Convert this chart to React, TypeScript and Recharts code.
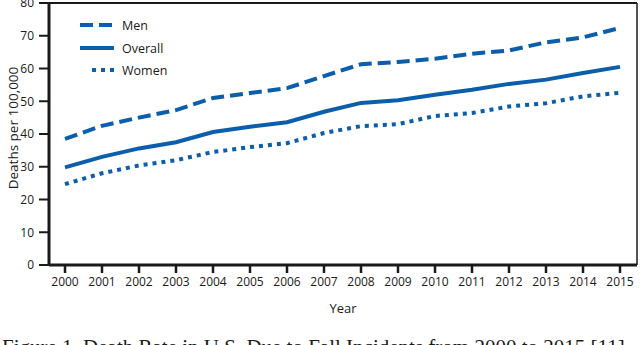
import React from 'react';
import { LineChart, Line, XAxis, YAxis } from 'recharts';

// Anos do eixo X
const years = [
  '2000', '2001', '2002', '2003', '2004', '2005', '2006', '2007',
  '2008', '2009', '2010', '2011', '2012', '2013', '2014', '2015',
];

// Taxas de morte por 100.000
const men = [38.5, 42.5, 45, 47.3, 51, 52.5, 54, 57.7, 61.3, 62, 63, 64.5, 65.5, 68, 69.5, 72.4];
const overall = [29.8, 33, 35.6, 37.5, 40.6, 42.2, 43.6, 46.8, 49.5, 50.3, 52, 53.5, 55.3, 56.6, 58.6, 60.5];
const women = [24.7, 28, 30.4, 32, 34.5, 36, 37.2, 40.3, 42.4, 43, 45.5, 46.4, 48.4, 49.4, 51.5, 52.6];

const yTicks = [0, 10, 20, 30, 40, 50, 60, 70, 80];

const BLUE = '#0b5eab';
const INK = '#1a1a1a';
const FONT = '"Open Sans", sans-serif';

// Tabela que o Recharts precisa
const data = years.map((year, i) => ({
  year,
  men: men[i],
  overall: overall[i],
  women: women[i],
}));

// Legenda desenhada à mão, no canto superior esquerdo
const LegendBox = () => {
  const items = [
    { label: 'Men', dash: '13 6', x1: 0, y: 12 },
    { label: 'Overall', dash: undefined, x1: 0, y: 35 },
    { label: 'Women', dash: '4 5', x1: 12, y: 57 },
  ];
  return (
    <svg
      width={110}
      height={70}
      style={{ position: 'absolute', left: 80, top: 13, display: 'block' }}
    >
      {items.map((it) => (
        <g key={it.label}>
          <line
            x1={it.x1}
            x2={34}
            y1={it.y}
            y2={it.y}
            stroke={BLUE}
            strokeWidth={4}
            strokeDasharray={it.dash}
          />
          <text x={42} y={it.y + 4.5} fontSize={12.5} fill={INK} fontFamily={FONT}>
            {it.label}
          </text>
        </g>
      ))}
    </svg>
  );
};

// Rótulo vertical do eixo Y
const YLabel = ({ viewBox }: any) => {
  const cx = 12.5;
  const cy = viewBox.y + viewBox.height / 2 - 6;
  return (
    <text
      x={cx}
      y={cy}
      transform={`rotate(-90 ${cx} ${cy})`}
      textAnchor="middle"
      dominantBaseline="central"
      fontSize={13.5}
      fill={INK}
      fontFamily={FONT}
    >
      Deaths per 100,000
    </text>
  );
};

const tickStyle = { fontSize: 12, fill: INK, fontFamily: FONT };

const App: React.FC = () => {
  return (
    <div
      style={{
        position: 'fixed',
        left: 0,
        top: 0,
        width: 640,
        height: 345,
        overflow: 'hidden',
        background: '#fff',
      }}
    >
      <LineChart
        width={640}
        height={320}
        data={data}
        margin={{ top: 2, right: 2, left: 0, bottom: 15 }}
      >
        <XAxis
          dataKey="year"
          height={40}
          padding={{ left: 16, right: 17 }}
          axisLine={{ stroke: INK, strokeWidth: 3 }}
          tickLine={{ stroke: INK, strokeWidth: 2.5 }}
          tickSize={8}
          tickMargin={4}
          tick={tickStyle}
          interval={0}
          label={{
            value: 'Year',
            position: 'insideBottom',
            offset: -8,
            style: { fontSize: 13, fill: INK, fontFamily: FONT },
          }}
        />
        {/* borda superior */}
        <XAxis
          xAxisId="top"
          dataKey="year"
          orientation="top"
          height={1}
          axisLine={{ stroke: INK, strokeWidth: 2 }}
          tick={false}
          tickLine={false}
        />
        <YAxis
          width={49}
          domain={[0, 80]}
          ticks={yTicks}
          interval={0}
          axisLine={{ stroke: INK, strokeWidth: 3 }}
          tickLine={{ stroke: INK, strokeWidth: 2 }}
          tickSize={10}
          tickMargin={5}
          tick={tickStyle}
          label={<YLabel />}
        />
        {/* borda direita */}
        <YAxis
          yAxisId="right"
          orientation="right"
          width={1}
          domain={[0, 80]}
          axisLine={{ stroke: INK, strokeWidth: 1.5 }}
          tick={false}
          tickLine={false}
        />
        <Line
          dataKey="men"
          stroke={BLUE}
          strokeWidth={4}
          strokeDasharray="13 6"
          dot={false}
          isAnimationActive={false}
        />
        <Line
          dataKey="overall"
          stroke={BLUE}
          strokeWidth={4}
          dot={false}
          isAnimationActive={false}
        />
        <Line
          dataKey="women"
          stroke={BLUE}
          strokeWidth={4}
          strokeDasharray="4 5"
          dot={false}
          isAnimationActive={false}
        />
      </LineChart>
      <LegendBox />
      {/* legenda da figura, cortada na parte de baixo como no original */}
      <div
        style={{
          position: 'absolute',
          left: 2,
          top: 337,
          fontFamily: '"Liberation Serif", "Times New Roman", serif',
          fontSize: 21,
          lineHeight: '20px',
          whiteSpace: 'nowrap',
          color: INK,
        }}
      >
        Figure 1. Death Rate in U.S. Due to Fall Incidents from 2000 to 2015 [11]
      </div>
    </div>
  );
};

export default App;
